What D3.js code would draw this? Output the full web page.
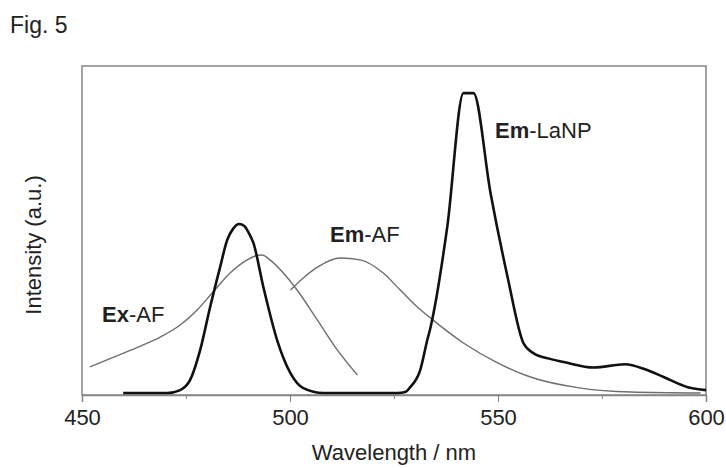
<!DOCTYPE html>
<html>
<head>
<meta charset="utf-8">
<script src="https://cdn.jsdelivr.net/npm/d3@7"></script>
<style>
  body { margin: 0; background: #fff; }
  svg { display: block; font-family: "Liberation Sans", Arial, sans-serif; }
</style>
</head>
<body>
<svg id="chart" width="726" height="468"></svg>
<script>
// thick curve: 488 nm peak + LaNP emission (one trace)
var thickWl = [459.9, 470.5, 473.6, 476.0, 478.4, 480.8, 483.2, 484.9, 486.3, 487.8, 489.0, 490.0, 491.2, 493.6, 496.9, 500.1, 503.2, 508.0,
  525.8, 527.7, 528.9, 531.3, 533.0, 533.8, 537.8, 541.7, 544.1, 548.2, 552.3, 556.1, 558.5, 562.0, 565.8, 573.0, 580.5, 585.5, 589.8, 595.6, 600.0];
var thickI = [0, 0, 0.009, 0.040, 0.131, 0.263, 0.385, 0.468, 0.502, 0.517, 0.511, 0.492, 0.459, 0.324, 0.162, 0.061, 0.015, 0,
  0, 0.003, 0.018, 0.07, 0.162, 0.202, 0.508, 0.917, 0.917, 0.612, 0.355, 0.153, 0.122, 0.106, 0.095, 0.078, 0.088, 0.072, 0.049, 0.018, 0.009];

// Ex-AF (thin)
var exAfWl = [451.9, 457.5, 463.2, 468.8, 473.6, 477.7, 481.5, 485.6, 489.7, 491.6, 493.3, 495.2, 498.4, 501.7, 506.6, 511.4, 516.2];
var exAfI = [0.080, 0.109, 0.139, 0.171, 0.208, 0.254, 0.309, 0.367, 0.407, 0.419, 0.422, 0.407, 0.367, 0.315, 0.223, 0.131, 0.055];

// Em-AF (thin)
var emAfWl = [500.1, 503.2, 506.6, 512.1, 516.9, 522.4, 526.5, 530.6, 533.8, 541.7, 549.9, 557.8, 569.9, 581.9, 598.7];
var emAfI = [0.315, 0.352, 0.385, 0.413, 0.407, 0.367, 0.315, 0.263, 0.229, 0.153, 0.092, 0.049, 0.015, 0.003, 0];

var majorTicks = [450, 500, 550, 600];
var minorTicks = [475, 525, 575];

var svg = d3.select('#chart');
var x = d3.scaleLinear().domain([450, 600]).range([82, 706]);
var y = d3.scaleLinear().domain([-0.006, 1]).range([395, 66]);

var zip = function (a, b) { return a.map(function (v, i) { return [v, b[i]]; }); };
var line = d3.line()
  .x(function (d) { return x(d[0]); })
  .y(function (d) { return y(d[1]); })
  .curve(d3.curveMonotoneX);

// frame
svg.append('rect')
  .attr('x', x.range()[0]).attr('y', y.range()[1])
  .attr('width', x.range()[1] - x.range()[0])
  .attr('height', y.range()[0] - y.range()[1])
  .attr('fill', 'none').attr('stroke', '#858585').attr('stroke-width', 1.5);

// axes
var gx = svg.append('g')
  .attr('transform', 'translate(0,' + y.range()[0] + ')')
  .call(d3.axisBottom(x).tickValues(majorTicks).tickSize(7).tickPadding(7).tickFormat(d3.format('d')));
gx.select('.domain').attr('stroke', '#858585').attr('stroke-width', 1.5);
gx.selectAll('.tick line').attr('stroke', '#858585');
gx.selectAll('text').attr('font-size', 22).attr('fill', '#222').attr('font-family', '"Liberation Sans", Arial, sans-serif');

var gm = svg.append('g')
  .attr('transform', 'translate(0,' + y.range()[0] + ')')
  .call(d3.axisBottom(x).tickValues(minorTicks).tickSize(4).tickFormat(''));
gm.select('.domain').remove();
gm.selectAll('.tick line').attr('stroke', '#858585');

// curves
svg.append('path').datum(zip(exAfWl, exAfI))
  .attr('d', line).attr('fill', 'none').attr('stroke', '#6e6e6e').attr('stroke-width', 1.4);
svg.append('path').datum(zip(emAfWl, emAfI))
  .attr('d', line).attr('fill', 'none').attr('stroke', '#6e6e6e').attr('stroke-width', 1.4);
svg.append('path').datum(zip(thickWl, thickI))
  .attr('d', line).attr('fill', 'none').attr('stroke', '#111').attr('stroke-width', 2.6)
  .attr('stroke-linejoin', 'round');

// texts
svg.append('text').attr('x', 10).attr('y', 33).attr('font-size', 23).attr('fill', '#222').text('Fig. 5');

svg.append('text')
  .attr('transform', 'translate(41,245) rotate(-90)')
  .attr('text-anchor', 'middle').attr('font-size', 22).attr('fill', '#222')
  .text('Intensity (a.u.)');

svg.append('text')
  .attr('x', (x.range()[0] + x.range()[1]) / 2).attr('y', 460)
  .attr('text-anchor', 'middle').attr('font-size', 22).attr('fill', '#222')
  .text('Wavelength / nm');

var labels = [
  { bold: 'Ex', rest: '-AF', x: 102, y: 322 },
  { bold: 'Em', rest: '-AF', x: 330, y: 242 },
  { bold: 'Em', rest: '-LaNP', x: 495, y: 138 }
];
labels.forEach(function (l) {
  var t = svg.append('text').attr('x', l.x).attr('y', l.y).attr('font-size', 22).attr('fill', '#222');
  t.append('tspan').attr('font-weight', 'bold').text(l.bold);
  t.append('tspan').text(l.rest);
});
</script>
</body>
</html>
